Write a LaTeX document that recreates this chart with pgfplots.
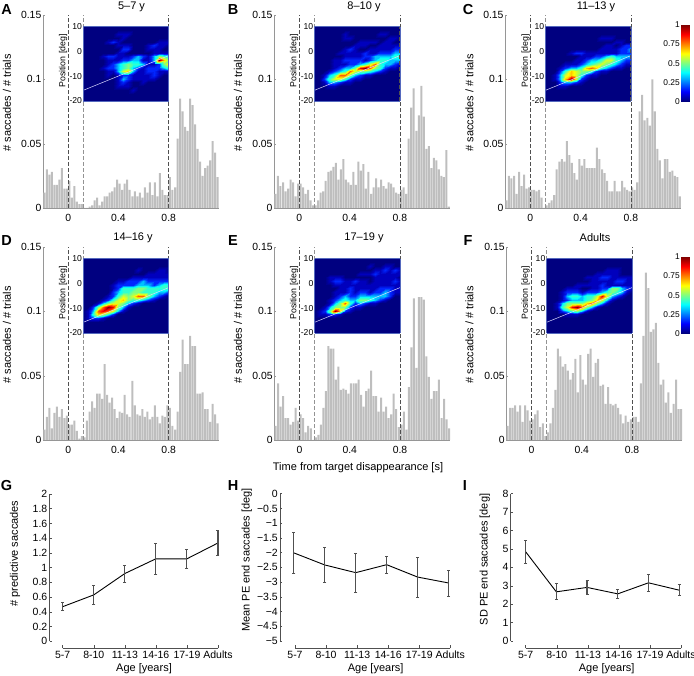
\documentclass[border=0pt]{standalone}
\usepackage{pgfplots}
\usepackage{pgfplotstable}
\usepackage{fontspec}
\setmainfont{Liberation Sans}
\pgfplotsset{compat=1.18}
\definecolor{barg}{RGB}{190,190,190}
\definecolor{axg}{RGB}{150,150,150}
\definecolor{axd}{RGB}{80,80,80}
\newcommand\fs[1]{\fontsize{#1}{#1}\selectfont}
\pgfplotstableread{
t a b c d e f
-0.19 .012 .011 .006 .008 .011 .011
-0.17 .030 .025 .025 .018 .044 .025
-0.15 .026 .017 .023 .025 .026 .025
-0.13 .028 .020 .025 .009 .034 .027
-0.11 .018 .013 .011 .021 .017 .022
-0.09 .018 .015 .028 .026 .017 .027
-0.07 .022 .022 .017 .018 .012 .014
-0.05 .031 .020 .026 .024 .014 .027
-0.03 .015 .009 .015 .017 .025 .023
-0.01 .015 .019 .016 .019 .015 .015
0.01 .021 .019 .014 .012 .020 .016
0.03 .008 .016 .014 .012 .017 .020
0.05 .017 .011 .013 .015 .006 .023
0.07 .005 .014 .014 .007 .011 .010
0.09 .003 .006 .008 .001 .009 .013
0.11 .003 .002 0 .003 0 .003
0.13 0 .002 .002 .002 .002 .006
0.15 0 .006 .004 .015 .004 .013
0.17 .001 .012 .006 .022 .012 .025
0.19 .002 .013 .010 .030 .025 .039
0.21 .006 .021 .030 .025 .038 .071
0.23 .008 .028 .036 .036 .073 .065
0.25 .002 .029 .038 .036 .071 .057
0.27 .005 .032 .036 .032 .071 .059
0.29 .009 .035 .052 .059 .047 .054
0.31 .009 .022 .041 .035 .057 .047
0.33 .012 .030 .035 .029 .039 .052
0.35 .013 .038 .027 .033 .040 .063
0.37 .016 .022 .022 .024 .039 .037
0.39 .022 .020 .038 .017 .036 .066
0.41 .019 .018 .033 .022 .044 .047
0.43 .014 .028 .038 .021 .044 .043
0.45 .019 .018 .031 .035 .044 .067
0.47 .022 .036 .031 .020 .047 .071
0.49 .014 .029 .031 .018 .035 .049
0.51 .009 .034 .031 .046 .026 .060
0.53 .013 .015 .047 .027 .038 .063
0.55 .009 .028 .038 .020 .040 .042
0.57 .012 .011 .030 .019 .054 .043
0.59 .008 .016 .027 .024 .034 .028
0.61 .016 .023 .021 .018 .034 .041
0.63 .012 .016 .013 .022 .022 .028
0.65 .020 .022 .013 .016 .033 .027
0.67 .010 .017 .021 .018 .022 .028
0.69 .020 .015 .013 .027 .026 .025
0.71 .009 .020 .013 .018 .017 .020
0.73 .027 .019 .021 .013 .020 .013
0.75 .014 .016 .016 .019 .036 .019
0.77 .010 .012 .014 .018 .024 .014
0.79 .010 .011 .013 .027 .010 .016
0.81 .024 .014 .016 .025 .012 .018
0.83 .014 .016 .014 .011 .022 .018
0.85 .016 .011 .020 .008 .008 .014
0.87 .054 .054 .075 .022 .041 .044
0.89 .085 .078 .088 .053 .072 .081
0.91 .075 .093 .068 .078 .110 .130
0.93 .063 .060 .070 .059 .056 .118
0.95 .060 .072 .064 .059 .111 .084
0.97 .085 .095 .100 .081 .111 .086
0.99 .080 .071 .075 .073 .109 .091
1.01 .065 .046 .046 .073 .065 .060
1.03 .046 .048 .037 .036 .049 .043
1.05 .036 .031 .023 .036 .032 .047
1.07 .025 .039 .038 .037 .038 .029
1.09 .031 .037 .038 .024 .038 .037
1.11 .033 .030 .028 .024 .047 .021
1.13 .037 .025 .029 .014 .017 .028
1.15 .052 .024 .025 .028 .032 .047
1.17 .043 .045 .024 .020 .016 .024
1.19 .024 .001 .009 .013 .009 .024
}\histdata
% Heat maps: rows from +10 deg down to -20 deg (step 1.5), columns 0.12 to 0.80 s (step 0.04), values 0-10
\def\heatA{{0,0,0,0,0,0,0,0,0,0,0,0,0,0,0,0,0,0},
{0,0,0,0,0,0,0,0,0,0,0,0,0,0,0,0,0,0},
{0,0,0,0,0,0,0,1,1,1,0,0,0,0,0,0,0,0},
{0,0,0,0,0,0,0,0,1,0,0,0,0,0,0,0,0,0},
{0,0,0,0,0,1,2,1,0,0,0,0,0,0,0,1,1,1},
{0,0,0,0,0,0,0,1,1,1,0,0,0,1,2,1,1,0},
{0,0,0,0,0,0,0,0,2,2,0,0,0,1,1,1,0,0},
{0,0,0,0,0,0,0,1,1,0,0,0,0,0,1,1,1,1},
{0,0,0,0,1,2,2,1,1,1,2,3,2,1,3,5,4,3},
{0,0,0,0,0,1,1,1,2,2,3,3,1,1,3,10,7,5},
{0,0,0,0,0,1,2,3,4,5,4,4,3,1,1,2,5,7},
{0,0,0,0,1,2,2,3,4,5,3,2,1,2,2,2,3,4},
{0,0,0,0,0,1,1,3,6,7,3,1,1,2,2,1,1,1},
{0,0,0,0,0,1,0,1,2,2,1,1,1,1,2,1,0,0},
{0,0,0,0,0,0,0,1,3,2,1,1,1,1,1,0,0,0},
{0,0,0,0,0,0,0,1,2,1,0,0,1,0,0,0,0,0},
{0,0,0,0,0,0,0,1,1,1,0,0,0,0,0,0,0,0},
{0,0,0,0,0,0,0,0,0,0,1,0,0,0,0,0,0,0},
{0,0,0,0,0,0,0,0,0,0,0,0,0,0,0,0,0,0},
{0,0,0,0,0,0,0,0,0,0,0,0,0,0,0,0,0,0},
{0,0,0,0,0,0,0,0,0,0,0,0,0,0,0,0,0,0}}
\def\heatB{{0,0,0,0,0,0,0,0,0,0,0,0,0,0,0,0,0,0},
{0,0,0,0,0,0,0,0,0,0,0,0,0,0,0,0,0,0},
{0,0,0,0,0,0,1,0,0,0,0,0,0,1,1,0,0,0},
{0,0,0,0,0,0,1,1,0,0,0,0,0,0,0,1,1,0},
{0,0,0,0,0,0,0,0,0,1,1,1,1,0,1,1,0,0},
{0,0,0,0,0,0,0,0,1,1,1,0,0,1,1,1,1,1},
{0,0,0,0,0,0,1,2,1,0,0,1,1,1,1,1,2,2},
{0,0,0,0,0,1,1,1,1,1,2,1,1,2,2,2,3,3},
{0,0,0,0,0,0,1,1,1,1,2,2,3,3,3,3,4,4},
{0,0,0,0,1,1,2,2,2,2,1,2,3,4,4,3,3,3},
{0,0,0,0,1,1,1,2,2,3,4,6,8,4,3,3,2,1},
{0,0,0,0,1,2,3,3,5,9,10,8,5,4,2,1,1,0},
{0,0,0,1,2,3,4,8,6,5,5,4,3,2,1,0,0,0},
{0,0,1,3,4,8,8,5,3,2,1,1,0,0,0,0,0,0},
{0,0,2,4,6,6,4,2,1,1,0,0,0,0,0,0,0,0},
{0,0,1,3,3,2,1,1,0,0,0,0,0,0,0,0,0,0},
{0,0,0,1,1,0,0,0,0,0,0,0,0,0,0,0,0,0},
{0,0,0,0,0,0,0,0,0,0,0,0,0,0,0,0,0,0},
{0,0,0,0,0,0,0,0,0,0,0,0,0,0,0,0,0,0},
{0,0,0,0,0,0,0,0,0,0,0,0,0,0,0,0,0,0},
{0,0,0,0,0,0,0,0,0,0,0,0,0,0,0,0,0,0}}
\def\heatC{{0,0,0,0,0,0,0,0,0,0,0,0,0,0,0,0,0,0},
{0,0,0,0,0,0,0,0,0,0,0,0,0,0,0,0,0,0},
{0,0,0,0,0,0,0,0,0,0,0,0,0,0,0,0,0,0},
{0,0,0,0,0,0,0,0,0,0,0,1,1,1,0,0,0,0},
{0,0,0,0,0,0,0,0,0,0,0,0,0,0,1,1,0,0},
{0,0,0,0,0,0,0,0,0,0,0,0,1,1,0,1,2,2},
{0,0,0,0,0,0,0,0,0,0,0,1,1,1,1,2,2,3},
{0,0,0,0,0,1,2,2,1,1,1,1,1,1,1,2,2,2},
{0,0,0,0,0,0,0,1,1,1,2,2,3,4,3,3,3,3},
{0,0,0,0,0,0,1,1,2,3,3,4,6,6,4,3,2,2},
{0,0,0,0,1,1,1,2,3,4,5,6,5,4,3,2,1,1},
{0,0,0,1,2,3,3,4,7,8,7,4,3,2,1,1,0,0},
{0,0,0,2,4,7,6,5,5,4,2,1,1,0,0,0,0,0},
{0,0,1,3,6,7,6,4,2,1,1,0,0,0,0,0,0,0},
{0,0,1,3,7,10,6,2,1,0,0,0,0,0,0,0,0,0},
{0,0,0,2,3,3,2,1,0,0,0,0,0,0,0,0,0,0},
{0,0,0,1,1,0,0,0,0,0,0,0,0,0,0,0,0,0},
{0,0,0,0,0,0,0,0,0,0,0,0,0,0,0,0,0,0},
{0,0,0,0,0,0,0,0,0,0,0,0,0,0,0,0,0,0},
{0,0,0,0,0,0,0,0,0,0,0,0,0,0,0,0,0,0},
{0,0,0,0,0,0,0,0,0,0,0,0,0,0,0,0,0,0}}
\def\heatD{{0,0,0,0,0,0,0,0,0,0,0,0,0,0,0,0,0,0},
{0,0,0,0,0,0,0,0,0,0,0,0,0,0,0,0,0,0},
{0,0,0,0,0,0,0,0,0,0,0,0,0,0,0,0,0,0},
{0,0,0,0,0,0,0,0,0,0,0,1,0,0,0,1,1,0},
{0,0,0,0,0,0,0,0,0,0,0,0,0,1,1,1,1,1},
{0,0,0,0,0,0,0,0,0,0,1,1,1,1,1,1,1,1},
{0,0,0,0,0,0,0,1,1,2,2,2,3,2,2,2,2,2},
{0,0,0,0,0,0,1,2,2,2,2,3,3,3,2,3,4,4},
{0,0,0,0,0,0,1,2,4,4,4,5,5,4,4,4,4,4},
{0,0,0,0,0,0,2,3,4,4,5,5,4,4,4,3,3,2},
{0,0,0,0,0,1,2,4,6,5,6,8,8,5,3,2,1,0},
{0,0,0,0,1,2,4,6,7,5,4,4,3,2,1,0,0,0},
{0,0,0,1,3,5,6,6,5,3,2,1,0,0,0,0,0,0},
{0,0,2,5,8,10,9,5,3,1,0,0,0,0,0,0,0,0},
{0,1,3,8,9,8,6,3,1,0,0,0,0,0,0,0,0,0},
{0,1,4,7,6,4,2,0,0,0,0,0,0,0,0,0,0,0},
{0,1,2,2,1,0,0,0,0,0,0,0,0,0,0,0,0,0},
{0,0,0,0,0,0,0,0,0,0,0,0,0,0,0,0,0,0},
{0,0,0,0,0,0,0,0,0,0,0,0,0,0,0,0,0,0},
{0,0,0,0,0,0,0,0,0,0,0,0,0,0,0,0,0,0},
{0,0,0,0,0,0,0,0,0,0,0,0,0,0,0,0,0,0}}
\def\heatE{{0,0,0,0,0,0,0,0,0,0,0,0,0,0,0,0,0,0},
{0,0,0,0,0,0,0,0,0,0,0,0,0,0,0,0,0,0},
{0,0,0,0,0,0,0,0,0,0,0,1,0,0,1,1,0,0},
{0,0,0,0,0,0,0,0,0,0,0,0,1,1,2,1,2,1},
{0,0,0,0,0,0,0,0,0,1,1,1,2,1,1,1,1,1},
{0,0,0,1,1,1,0,0,0,0,0,0,1,1,1,1,1,0},
{0,0,0,1,2,2,1,1,2,1,1,0,1,1,1,1,2,1},
{0,0,0,0,1,1,1,1,1,1,1,1,1,1,1,1,1,1},
{0,0,0,0,0,1,1,2,1,1,1,1,1,2,2,2,1,1},
{0,0,0,0,1,1,1,2,1,2,2,1,2,2,3,2,1,1},
{0,0,0,0,1,2,3,2,2,3,3,3,3,3,3,2,0,0},
{0,0,0,1,2,3,4,3,3,5,5,4,3,2,1,0,0,0},
{0,0,0,1,3,5,8,4,2,3,2,1,1,0,0,0,0,0},
{0,0,1,3,5,5,5,2,1,1,0,0,0,0,0,0,0,0},
{0,1,2,5,10,7,2,1,0,0,0,0,0,0,0,0,0,0},
{0,1,1,2,2,1,0,0,0,0,0,0,0,0,0,0,0,0},
{0,0,0,0,0,0,0,0,0,0,0,0,0,0,0,0,0,0},
{0,0,0,0,0,0,0,0,0,0,0,0,0,0,0,0,0,0},
{0,0,0,0,0,0,0,0,0,0,0,0,0,0,0,0,0,0},
{0,0,0,0,0,0,0,0,0,0,0,0,0,0,0,0,0,0},
{0,0,0,0,0,0,0,0,0,0,0,0,0,0,0,0,0,0}}
\def\heatF{{0,0,0,0,0,0,0,0,0,0,0,0,0,0,0,0,0,0},
{0,0,0,0,0,0,0,0,0,0,0,0,0,0,0,0,0,0},
{0,0,0,0,0,0,0,0,0,0,0,0,0,0,0,0,0,0},
{0,0,0,0,0,0,0,0,0,0,0,0,1,1,1,0,0,0},
{0,0,0,0,0,0,0,0,0,0,1,1,1,1,1,0,0,0},
{0,0,0,0,0,0,0,0,1,1,1,2,2,1,1,1,1,1},
{0,0,0,0,0,0,0,0,0,1,1,1,1,1,2,2,1,1},
{0,0,0,0,0,0,1,1,1,1,1,2,1,1,1,1,1,1},
{0,0,0,0,1,1,1,0,0,1,1,2,2,5,5,3,2,1},
{0,0,0,1,2,2,2,1,2,2,2,3,4,5,4,3,1,0},
{0,0,0,1,3,4,4,3,4,4,6,9,6,3,2,1,0,0},
{0,0,0,1,2,3,3,3,4,5,7,6,3,1,0,0,0,0},
{0,0,1,3,5,5,5,5,7,8,5,3,1,0,0,0,0,0},
{0,0,1,4,6,9,10,8,5,3,1,0,0,0,0,0,0,0},
{0,0,0,2,3,4,5,3,1,0,0,0,0,0,0,0,0,0},
{0,0,0,0,1,1,1,0,0,0,0,0,0,0,0,0,0,0},
{0,0,0,0,0,0,0,0,0,0,0,0,0,0,0,0,0,0},
{0,0,0,0,0,0,0,0,0,0,0,0,0,0,0,0,0,0},
{0,0,0,0,0,0,0,0,0,0,0,0,0,0,0,0,0,0},
{0,0,0,0,0,0,0,0,0,0,0,0,0,0,0,0,0,0},
{0,0,0,0,0,0,0,0,0,0,0,0,0,0,0,0,0,0}}
\newcommand\buildheat[1]{\gdef\coords{}%
\foreach \row [count=\j from 0] in #1 {%
 \foreach \v [count=\i from 0] in \row {%
  \pgfmathsetmacro\xx{0.12+0.04*\i}\pgfmathsetmacro\yy{10-1.5*\j}%
  \xdef\coords{\coords (\xx,\yy,\v)}}}}
\pgfplotsset{
 colormap={heatjet}{rgb(0pt)=(0,0,.5); rgb(10pt)=(0,0,.74); rgb(20pt)=(0,.15,1); rgb(34pt)=(0,1,1); rgb(50pt)=(.5,1,.5); rgb(65pt)=(1,1,0); rgb(89pt)=(1,0,0); rgb(100pt)=(.5,0,0)},
 hist/.style={scale only axis,width=176pt,height=193pt,anchor=south west,
  xmin=-0.2,xmax=1.2,ymin=0,ymax=0.15,clip=false,
  axis y line=left,axis x line=bottom,axis line style={-,axg,line width=.7pt},
  xtick={0,0.4,0.8},xticklabels={0,0.4,0.8},
  ytick={0,0.05,0.1,0.15},yticklabels={0,0.05,0.1,0.15},
  major tick length=2pt,tick style={axg},xtick style={draw=none},
  tick align=inside,
  yticklabel style={font=\fs{10.4},inner sep=0pt,xshift=-1.5pt},
  xticklabel style={font=\fs{10.4},inner sep=0pt,yshift=-6pt}},
 heat/.style={scale only axis,width=85.4pt,height=74.3pt,anchor=south west,
  view={0}{90},xmin=0.12,xmax=0.8,ymin=-20,ymax=10,clip=false,
  colormap name=heatjet,point meta min=0,point meta max=10,
  xtick=\empty,ytick={-20,-10,0,10},yticklabels={-20,-10,0,10},
  tick style={draw=none},axis line style={draw={rgb,255:red,85;green,105;blue,190},line width=.4pt},axis on top,
  yticklabel style={font=\fs{8.6},inner sep=0pt,xshift=-1pt}},
 yax/.style={scale only axis,anchor=south west,axis y line=left,axis x line=none,
  height=147.3pt,width=168.5pt,xmin=0.575,xmax=6,clip=false,
  axis line style={-,axd,line width=.5pt},tick style={axd,line width=.5pt},
  tick align=inside,major tick length=2.3pt,
  yticklabel style={font=\fs{10.5},inner sep=0pt,xshift=-2pt}},
 xax/.style={scale only axis,anchor=south west,axis x line=bottom,axis y line=none,
  width=155.3pt,height=6pt,xmin=1,xmax=6,ymin=0,ymax=1,
  axis line style={-,axd,line width=.5pt},tick style={axd,line width=.5pt},
  tick align=inside,major tick length=3pt,
  xtick={1,2,3,4,5,6},xticklabels={5-7,8-10,11-13,14-16,17-19,Adults},
  xticklabel style={font=\fs{10.5},inner sep=0pt,yshift=-2.5pt}},
 ebar/.style={black,line width=.9pt,error bars/.cd,y dir=both,y explicit,
  error bar style={axd,line width=1.1pt},
  error mark options={rotate=90,mark size=1.5pt,line width=.7pt,axd}}
}
\newcommand\histp[3]{\begin{axis}[hist,at={(#1pt,#2pt)}]
\addplot[ybar,bar width=2pt,bar shift=0pt,draw=none,fill=barg] table[x=t,y=#3]{\histdata};
\addplot[axd,line width=.7pt,dash pattern=on 3.5pt off 2.5pt] coordinates {(0,0)(0,0.15)};
\addplot[gray!85,line width=.7pt,dash pattern=on 3.5pt off 2.5pt] coordinates {(0.12,0)(0.12,0.15)};
\addplot[axd,line width=.7pt,dash pattern=on 3.5pt off 2.5pt] coordinates {(0.8,0)(0.8,0.15)};
\end{axis}}
\newcommand\heatp[3]{\buildheat{#3}%
\begin{axis}[heat,at={(#1pt,#2pt)}]
\edef\tmp{\noexpand\addplot3[surf,shader=interp,mesh/cols=18,z buffer=none] coordinates {\coords};}\tmp
\addplot3[white!85!blue,line width=.5pt] coordinates {(0.12,-15.7,10)(0.8,-1.7,10)};
\addplot3[axd,line width=.7pt,dash pattern=on 3.5pt off 2.5pt] coordinates {(0.8,-20,10)(0.8,10,10)};
\end{axis}}
\newcommand\cbar[2]{\begin{axis}[scale only axis,width=8pt,height=76.7pt,anchor=south west,at={(#1pt,#2pt)},
  view={0}{90},xmin=0,xmax=1,ymin=0,ymax=1,colormap/jet,point meta min=0,point meta max=1,
  xtick=\empty,ytick={0,0.25,0.5,0.75,1},yticklabels={0,0.25,0.5,0.75,1},
  tick style={draw=none},axis line style={draw=none},
  yticklabel style={font=\fs{8.4},inner sep=0pt,xshift=-1pt}]
\addplot3[surf,shader=interp,mesh/cols=2,z buffer=none] coordinates {(0,0,0)(1,0,0)(0,1,1)(1,1,1)};
\end{axis}}
\newcommand\T[3]{\node[inner sep=0pt,anchor=center] at (#1pt,#2pt) {#3};}
\newcommand\R[3]{\node[inner sep=0pt,anchor=center,rotate=90] at (#1pt,#2pt) {#3};}
\begin{document}
\begin{tikzpicture}
\path[use as bounding box] (0pt,0pt) rectangle (694pt,676pt);
% top row
\histp{43}{468}{a}\histp{274.2}{468}{b}\histp{505.2}{468}{c}
\histp{43}{236}{d}\histp{274.3}{236}{e}\histp{506.3}{236}{f}
\heatp{83.2}{575}{\heatA}\heatp{314.4}{575}{\heatB}\heatp{545.4}{575}{\heatC}
\heatp{83.2}{343}{\heatD}\heatp{314.5}{343}{\heatE}\heatp{546.5}{343}{\heatF}
\cbar{681}{574.5}\cbar{681}{342.5}
% G
\begin{axis}[yax,at={(49.5pt,34.7pt)},ymin=0,ymax=2,
 ytick={0,0.2,0.4,0.6,0.8,1,1.2,1.4,1.6,1.8,2},yticklabels={0,0.2,0.4,0.6,0.8,1,1.2,1.4,1.6,1.8,2}]
\addplot[ebar] coordinates {(1,0.47)+-(0,0.055)(2,0.63)+-(0,0.125)(3,0.92)+-(0,0.115)(4,1.12)+-(0,0.21)(5,1.12)+-(0,0.135)(6,1.335)+-(0,0.165)};
\end{axis}
\begin{axis}[xax,at={(62.7pt,27.7pt)}]\end{axis}
% H
\begin{axis}[yax,at={(280pt,35pt)},ymin=-5,ymax=0,xmin=0.55,
 ytick={0,-0.5,-1,-1.5,-2,-2.5,-3,-3.5,-4,-4.5,-5},yticklabels={0,−0.5,−1,−1.5,−2,−2.5,−3,−3.5,−4,−4.5,−5}]
\addplot[ebar] coordinates {(1,-2.01)+-(0,0.71)(2,-2.42)+-(0,0.585)(3,-2.68)+-(0,0.665)(4,-2.41)+-(0,0.3)(5,-2.83)+-(0,0.675)(6,-3.03)+-(0,0.44)};
\end{axis}
\begin{axis}[xax,at={(295pt,27.7pt)}]\end{axis}
% I
\begin{axis}[yax,at={(510.7pt,35pt)},ymin=0,ymax=8,xmin=0.515,
 ytick={0,1,2,3,4,5,6,7,8},yticklabels={0,1,2,3,4,5,6,7,8}]
\addplot[ebar] coordinates {(1,4.85)+-(0,0.635)(2,2.67)+-(0,0.435)(3,2.91)+-(0,0.36)(4,2.56)+-(0,0.245)(5,3.16)+-(0,0.455)(6,2.76)+-(0,0.3)};
\end{axis}
\begin{axis}[xax,at={(525.7pt,27.7pt)},xticklabels={5-7,8-10,11-13,14-16,17-19,Adults\hspace{5pt}}]\end{axis}
% text
\T{131.5}{669}{\fs{11}5–7 y}\T{364}{669}{\fs{11}8–10 y}\T{596}{669}{\fs{11}11–13 y}
\T{133}{438}{\fs{11}14–16 y}\T{364}{438}{\fs{11}17–19 y}\T{595}{438}{\fs{11}Adults}
\foreach \x/\y in {7/573,238/573,469.5/573,7/341,238/341,469.5/341}{\R{\x}{\y}{\fs{11}\# saccades / \# trials}}
\T{358}{208.5}{\fs{11}Time from target disappearance [s]}
\R{15}{122.5}{\fs{11}\# predictive saccades}
\R{246.7}{116}{\fs{11}Mean PE end saccades  [deg]}
\R{484.7}{116.5}{\fs{11}SD PE end saccades [deg]}
\T{144}{7}{\fs{11}Age [years]}\T{375.7}{7}{\fs{11}Age [years]}\T{606.7}{7}{\fs{11}Age [years]}
\foreach \x/\y in {63/615,294/615,525.5/615,63/383,294/383,525.5/383}{\R{\x}{\y}{\fs{8.8}Position [deg]}}
\T{6.5}{666.5}{\fs{14.5}\bfseries A}\T{233}{666.5}{\fs{14.5}\bfseries B}\T{468}{666.5}{\fs{14.5}\bfseries C}
\T{6.5}{435}{\fs{14.5}\bfseries D}\T{233}{435}{\fs{14.5}\bfseries E}\T{468}{435}{\fs{14.5}\bfseries F}
\T{6.5}{190.5}{\fs{14.5}\bfseries G}\T{233}{190.5}{\fs{14.5}\bfseries H}\T{465}{190.5}{\fs{14.5}\bfseries I}
\end{tikzpicture}
\end{document}
